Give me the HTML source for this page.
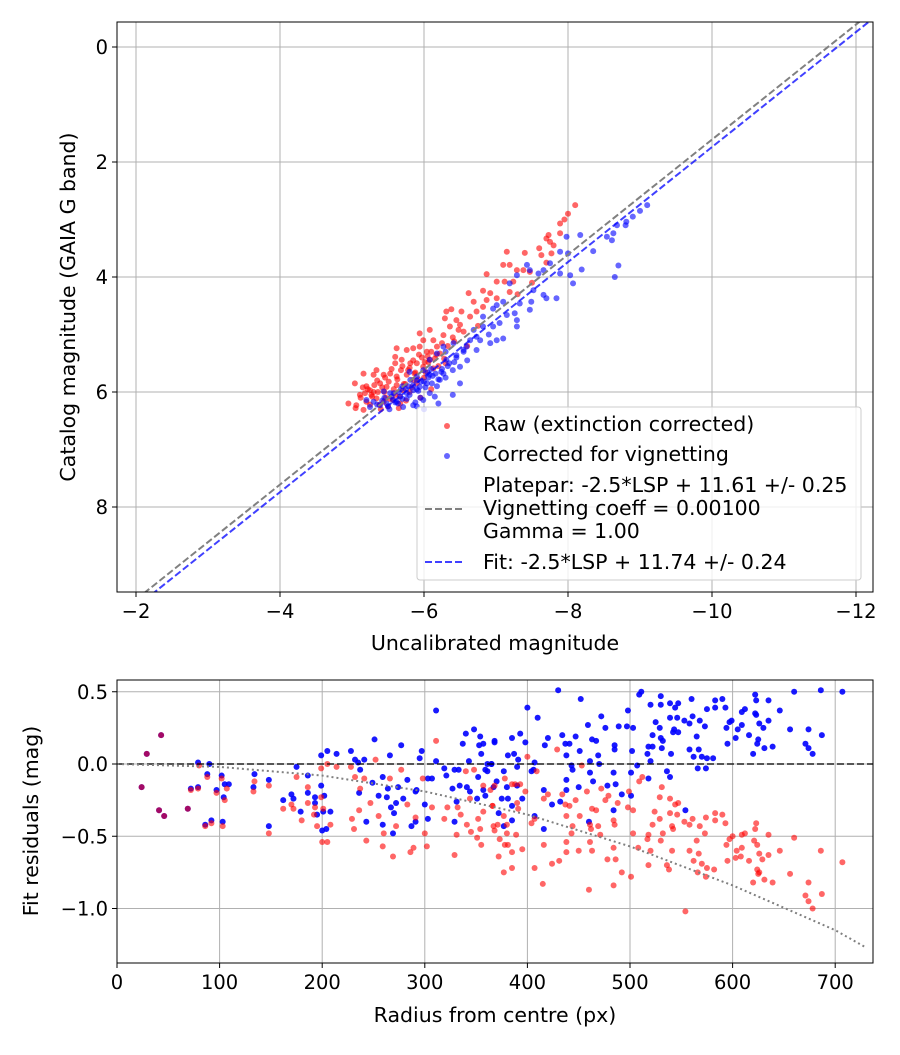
<!DOCTYPE html>
<html><head><meta charset="utf-8"><style>
body{margin:0;background:#fff}
svg{font-family:"DejaVu Sans","Liberation Sans",sans-serif}
</style></head><body>
<svg id="chart" width="900" height="1050" viewBox="0 0 900 1050" xmlns="http://www.w3.org/2000/svg">
<rect width="900" height="1050" fill="#fff"/>
<g id="topPlot"></g>
<g id="botPlot"></g>
</svg>
<script>
const rawX=[-7.89,-7.89,-7.73,-7.75,-7.70,-7.15,-7.40,-7.63,-7.77,-7.10,-7.19,-7.29,-7.38,-6.87,-7.01,-7.12,-7.24,-7.47,-6.62,-6.82,-6.92,-6.69,-6.87,-7.01,-7.19,-6.31,-6.38,-6.52,-6.64,-6.73,-6.82,-6.29,-6.45,-6.50,-6.08,-6.27,-6.36,-6.48,-5.94,-5.99,-6.13,-6.18,-5.62,-5.76,-5.85,-5.94,-6.04,-6.08,-6.22,-5.60,-5.69,-5.81,-5.90,-5.99,-6.13,-5.16,-5.34,-5.44,-5.53,-5.62,-5.76,-5.85,-5.39,-5.48,-5.62,-5.71,-5.25,-5.11,-5.04,-4.95,-5.06,-5.20,-5.34,-5.44,-5.57,-5.67,-5.16,-8.1,-8.0,-7.95,-7.6,-5.3,-5.5,-5.6,-5.8,-5.9,-6.0,-5.45,-5.2,-5.35,-5.55,-5.7,-5.85,-6.1,-6.25,-6.4,-6.55,-5.05,-5.25,-5.4,-5.65,-5.75,-5.95,-6.1,-6.3,-6.6,-6.75,-7.3,-7.5,-7.7,-7.8,
-5.12,-5.18,-5.22,-5.28,-5.31,-5.36,-5.42,-5.47,-5.51,-5.58,-5.63,-5.66,-5.72,-5.78,-5.83,-5.88,-5.92,-5.97,-6.02,-6.06,-6.15,-6.2,-6.33,-6.42,-5.15,-5.3,-5.38,-5.52,-5.68,-5.8,-5.93,-6.05,-6.17,-6.28,-5.27,-5.46,-5.6,-5.74,-5.87,-6.01];
const rawY=[3.07,3.24,3.27,3.39,3.33,3.56,3.58,3.62,3.59,3.79,3.79,3.88,3.88,3.95,4.08,4.08,4.08,3.91,4.28,4.24,4.28,4.43,4.40,4.37,4.26,4.60,4.56,4.60,4.69,4.60,4.52,4.72,4.75,4.83,4.92,5.01,4.86,4.92,4.98,5.10,5.10,5.21,5.24,5.27,5.24,5.21,5.30,5.44,5.33,5.39,5.44,5.50,5.50,5.56,5.59,5.68,5.62,5.70,5.68,5.73,5.70,5.79,5.85,5.91,5.88,5.97,5.97,6.05,5.85,6.20,6.23,6.17,6.11,6.17,6.14,6.20,6.31,2.75,2.9,3.0,3.5,6.0,6.25,6.05,6.0,5.85,5.75,6.0,5.9,5.8,5.6,5.55,5.45,5.3,5.15,5.05,4.95,6.28,6.22,6.3,6.28,6.15,6.1,5.95,5.5,5.2,4.85,4.3,4.1,3.75,3.45,
6.1,6.02,5.95,6.08,5.88,6.0,5.92,6.1,5.82,5.95,5.78,6.08,5.86,5.62,5.92,5.66,5.78,5.4,5.65,5.48,5.42,5.55,5.2,5.12,5.92,5.7,6.22,6.12,5.62,5.58,5.35,5.38,5.35,5.42,6.05,5.75,5.5,5.86,5.68,5.48];
const corX=[-7.98,-8.17,-8.54,-8.61,-8.81,-8.68,-8.63,-7.89,-8.00,-7.75,-7.66,-7.47,-7.43,-7.59,-7.89,-8.03,-8.07,-8.19,-7.29,-7.19,-7.52,-7.66,-7.70,-7.84,-7.49,-7.47,-7.33,-7.26,-7.29,-7.15,-7.29,-6.96,-7.01,-7.10,-6.82,-6.96,-6.82,-6.69,-6.73,-6.64,-6.59,-6.55,-6.45,-6.73,-6.92,-7.01,-7.10,-6.78,-6.41,-6.27,-6.18,-6.08,-6.31,-6.50,-5.99,-5.90,-5.81,-6.08,-6.27,-6.22,-6.04,-5.94,-5.85,-5.76,-5.67,-5.57,-5.48,-5.39,-5.30,-5.20,-6.08,-6.15,-5.99,-5.85,-5.71,-5.62,-5.53,-5.44,-5.25,-9.1,-9.0,-8.9,-8.8,-6.0,-5.9,-6.2,-6.4,-6.5,-5.7,-5.9,-6.1,-5.8,-6.3,-6.6,-6.9,-7.05,-8.35,-8.7,-8.65,
-5.35,-5.42,-5.5,-5.55,-5.6,-5.65,-5.7,-5.75,-5.8,-5.85,-5.88,-5.92,-5.96,-6.02,-6.06,-6.11,-6.16,-6.2,-6.25,-6.35,-6.4,-6.45,-5.45,-5.58,-5.68,-5.78,-5.9,-6.0,-6.12,-6.24,-6.33,-5.52,-5.64,-5.76,-5.95,-6.05,-6.18,-6.3,-6.42,-6.55];
const corY=[3.30,3.27,3.30,3.36,3.04,3.10,3.24,3.56,3.59,3.76,3.88,3.88,3.79,3.94,3.94,3.97,4.11,3.87,3.97,4.11,4.23,4.31,4.37,4.37,4.43,4.57,4.46,4.63,4.75,4.66,4.86,4.55,4.49,4.43,4.69,4.86,4.86,4.92,5.04,5.10,5.21,5.27,5.36,5.27,5.15,5.10,5.07,5.10,5.15,5.21,5.33,5.44,5.44,5.56,5.62,5.73,5.79,5.70,5.68,5.79,5.85,5.91,5.97,6.02,6.08,6.14,6.20,6.23,6.17,6.14,6.02,6.08,6.14,6.23,6.26,6.17,6.02,5.99,6.26,2.75,2.85,2.95,3.1,6.3,6.25,6.2,6.05,5.85,5.9,5.8,5.6,5.65,5.3,5.45,5.0,4.8,3.55,3.8,4.0,
6.22,6.15,6.25,6.08,6.18,6.0,6.12,5.95,6.05,5.88,6.18,5.98,5.82,5.92,5.75,5.85,5.68,5.78,5.6,5.5,5.62,5.4,6.1,6.02,5.95,5.9,5.95,5.82,5.72,5.65,5.55,6.3,6.2,6.12,6.1,5.66,5.9,5.75,5.48,5.3];
const plateparZP=11.61, fitZP=11.74;
const xTicksTop=[-2,-4,-6,-8,-10,-12], yTicksTop=[0,2,4,6,8];

const resRawR=[43,29,24,41,46,69,80,88,102,72,79,97,107,105,86,92,103,134,133,148,148,175,162,170,172,180,186,199,205,214,228,252,232,241,237,199,193,195,200,205,208,201,192,186,243,231,229,236,247,255,260,259,269,272,277,266,283,291,289,286,300,302,298,311,307,319,322,329,331,332,335,340,348,344,341,345,351,354,355,352,357,357,364,367,366,
400,409,429,453,398,388,393,368,378,385,390,391,366,377,371,380,368,389,380,373,378,381,385,395,372,377,385,404,407,407,416,420,416,415,424,431,434,437,441,438,447,444,443,438,438,450,451,458,463,467,461,462,461,463,460,469,471,472,476,479,484,485,484,478,486,484,488,492,498,499,503,503,501,508,509,512,517,518,520,518,522,524,529,531,529,530,532,539,539,541,542,541,536,538,544,547,546,553,558,561,558,562,568,567,565,570,575,574,573,582,574,566,554,583,583,590,593,594,595,597,600,604,603,609,608,609,612,616,622,623,621,624,626,629,624,626,625,620,631,635,635,639,646,656,660,671,674,674,678,686,687,707];
const resRawV=[0.20,0.07,-0.16,-0.32,-0.36,-0.31,-0.01,-0.09,-0.10,-0.18,-0.17,-0.20,-0.17,-0.25,-0.43,-0.41,-0.43,-0.12,-0.19,-0.15,-0.48,-0.09,-0.31,-0.28,-0.31,-0.39,-0.16,-0.03,0.00,-0.02,-0.02,0.03,-0.09,-0.10,-0.17,-0.23,-0.30,-0.43,-0.54,-0.54,-0.42,-0.31,-0.35,-0.27,-0.53,-0.45,-0.38,-0.32,-0.27,-0.36,-0.48,-0.57,-0.64,-0.43,-0.04,-0.10,-0.28,-0.37,-0.58,-0.61,-0.48,-0.57,-0.10,0.16,-0.30,-0.38,-0.30,-0.63,-0.49,-0.30,-0.35,-0.05,-0.04,-0.24,-0.42,-0.47,-0.51,-0.45,-0.56,-0.38,-0.33,-0.15,-0.18,-0.43,-0.29,
0.05,-0.05,0.10,-0.01,-0.19,-0.14,-0.14,-0.15,-0.10,-0.14,-0.27,-0.31,-0.29,-0.36,-0.42,-0.42,-0.46,-0.49,-0.48,-0.52,-0.56,-0.56,-0.61,-0.59,-0.64,-0.75,-0.72,-0.41,-0.38,-0.72,-0.24,-0.21,-0.56,-0.83,-0.69,-0.67,-0.21,-0.28,-0.29,-0.36,-0.25,-0.43,-0.48,-0.54,-0.61,-0.60,-0.36,-0.19,-0.31,-0.32,-0.42,-0.45,-0.54,-0.60,-0.87,-0.43,-0.49,-0.17,-0.25,-0.22,-0.39,-0.42,-0.58,-0.66,-0.66,-0.84,-0.27,-0.75,-0.30,-0.19,-0.32,-0.48,-0.78,-0.58,-0.12,-0.09,-0.52,-0.49,-0.60,-0.70,-0.42,-0.33,-0.38,-0.16,-0.23,-0.53,-0.48,-0.24,-0.34,-0.43,-0.45,-0.60,-0.70,-0.73,-0.28,-0.27,-0.35,-0.40,-0.42,-0.38,-0.60,-0.67,-0.43,-0.62,-0.53,-0.69,-0.72,-0.37,-0.48,-0.73,-0.78,-0.75,-1.02,-0.34,-0.39,-0.35,-0.41,-0.56,-0.67,-0.52,-0.50,-0.60,-0.65,-0.58,-0.64,-0.49,-0.48,-0.67,-0.45,-0.41,-0.53,-0.56,-0.62,-0.66,-0.73,-0.75,-0.76,-0.82,-0.80,-0.49,-0.63,-0.82,-0.60,-0.76,-0.51,-0.91,-0.82,-0.95,-1.00,-0.60,-0.90,-0.68];
const resCorR=[43,29,24,41,46,69,79,90,88,102,72,79,97,105,109,104,86,92,103,134,133,148,148,175,186,162,170,172,179,186,199,205,214,228,232,241,235,237,199,202,193,193,195,201,208,200,204,251,266,277,297,295,311,311,319,321,303,307,283,259,249,236,264,274,255,263,272,279,291,292,267,270,243,259,269,287,291,300,303,329,327,331,334,329,333,337,340,348,354,353,357,355,343,361,365,359,361,352,341,344,351,357,359,367,368,
430,452,400,410,368,385,393,398,381,387,391,390,407,406,404,365,377,370,380,390,375,381,385,395,372,377,385,407,416,417,420,434,437,441,447,459,472,476,489,463,467,451,438,469,461,470,443,444,461,464,438,438,450,416,424,432,478,486,484,485,485,492,501,484,460,498,497,503,502,507,501,509,511,520,530,530,525,529,522,530,532,518,522,531,517,520,540,536,539,518,539,544,547,539,546,543,542,547,553,558,560,561,568,565,558,567,562,570,575,581,566,574,573,575,583,590,583,593,594,595,599,597,605,603,609,612,609,616,622,623,622,623,626,630,625,624,620,631,635,635,639,646,660,656,671,674,678,674,686,687,707,554];
const resCorV=[0.20,0.07,-0.16,-0.32,-0.36,-0.31,0.01,0.00,-0.07,-0.08,-0.17,-0.16,-0.18,-0.14,-0.14,-0.23,-0.42,-0.39,-0.40,-0.07,-0.16,-0.11,-0.43,-0.02,-0.08,-0.25,-0.21,-0.24,-0.33,-0.20,0.06,0.09,0.07,0.09,0.03,0.03,0.01,-0.04,-0.15,-0.22,-0.23,-0.27,-0.35,-0.33,-0.33,-0.46,-0.45,0.17,0.06,0.13,0.09,0.04,0.37,0.02,-0.03,-0.08,-0.10,-0.10,-0.11,-0.09,-0.13,-0.20,-0.17,-0.16,-0.22,-0.23,-0.27,-0.24,-0.19,-0.18,-0.30,-0.34,-0.40,-0.42,-0.48,-0.43,-0.40,-0.28,-0.38,-0.40,-0.17,-0.26,-0.15,-0.04,-0.04,0.14,0.21,0.24,0.19,0.13,0.14,0.07,0.02,0.00,0.00,-0.04,-0.05,-0.09,-0.16,-0.19,-0.24,-0.18,-0.22,-0.16,0.15,
0.51,0.45,0.39,0.32,0.16,0.18,0.21,0.15,0.06,0.07,0.03,-0.02,0.01,-0.04,-0.05,0.00,-0.05,-0.12,-0.16,-0.15,-0.24,-0.24,-0.29,-0.24,-0.34,-0.43,-0.39,-0.36,-0.45,0.13,0.18,0.20,0.14,0.14,0.19,0.27,0.33,0.25,0.26,0.17,0.16,0.09,0.06,0.06,0.02,0.00,-0.01,-0.04,-0.06,-0.12,-0.11,-0.18,-0.16,-0.18,-0.28,-0.26,-0.15,-0.14,-0.06,0.13,0.10,-0.21,-0.22,-0.32,-0.40,0.37,0.26,0.25,0.09,-0.01,-0.06,0.48,0.50,0.41,0.47,0.41,0.29,0.25,0.20,0.18,0.16,0.12,0.12,0.11,0.07,0.02,0.07,-0.05,-0.09,-0.10,0.42,0.39,0.42,0.32,0.32,0.24,0.22,0.22,0.30,0.28,0.45,0.33,0.30,0.19,0.10,0.10,0.05,0.05,0.04,0.04,-0.03,-0.03,0.26,0.38,0.44,0.45,0.39,0.39,0.25,0.14,0.30,0.29,0.24,0.18,0.36,0.38,0.27,0.20,0.48,0.44,0.35,0.34,0.28,0.25,0.17,0.14,0.07,0.11,0.44,0.30,0.12,0.37,0.50,0.24,0.14,0.11,0.07,0.24,0.51,0.20,0.50,-0.32];
const vignetteR=[0,100,200,300,400,500,600,700,730];
const vignetteV=[0.0,-0.02,-0.08,-0.19,-0.35,-0.57,-0.84,-1.15,-1.27];
const xTicksBot=[0,100,200,300,400,500,600,700], yTicksBot=[0.5,0.0,-0.5,-1.0];

const NS="http://www.w3.org/2000/svg";
const FS=20.5;
function mk(p,t,a){const e=document.createElementNS(NS,t);for(const k in a)e.setAttribute(k,a[k]);p.appendChild(e);return e;}
const gTop=document.getElementById('topPlot'), gBot=document.getElementById('botPlot');
const T={l:117,r:873,t:22,b:592};
const tx=v=>136+(v-(-2))*(-72);
const ty=v=>47+v*57.5;
const B={l:117,r:873,t:680,b:963};
const bx=v=>117+v*1.026;
const by=v=>764-v*144.5;

function grid(g,box,xt,xf,yt,yf,fmt){
  xt.forEach(v=>{const x=xf(v);
    const l=mk(g,'line',{x1:x,x2:x,y1:box.t,y2:box.b,stroke:'#b0b0b0','stroke-width':1});
    
    
    mk(g,'line',{x1:x,x2:x,y1:box.b,y2:box.b+5,stroke:'#000'});
    const t=mk(g,'text',{x:x,y:box.b+26,'text-anchor':'middle','font-size':FS-1});
    t.textContent=fmt.x(v);
    
    });
  yt.forEach(v=>{const y=yf(v);
    const l=mk(g,'line',{x1:box.l,x2:box.r,y1:y,y2:y,stroke:'#b0b0b0','stroke-width':1});
    
    
    mk(g,'line',{x1:box.l-5,x2:box.l,y1:y,y2:y,stroke:'#000'});
    const t=mk(g,'text',{x:box.l-9,y:y+7,'text-anchor':'end','font-size':FS-1});
    t.textContent=fmt.y(v);
    
    });
}
const minus=s=>String(s).replace('-','\u2212');
grid(gTop,T,xTicksTop,tx,yTicksTop,ty,{x:v=>minus(v),y:v=>minus(v)});
grid(gBot,B,xTicksBot,bx,yTicksBot,by,{x:v=>String(v),y:v=>minus(v.toFixed(1))});

const svgRoot=document.getElementById('chart');
const defs=mk(svgRoot,'defs',{});
const c1=mk(defs,'clipPath',{id:'c1'});mk(c1,'rect',{x:T.l,y:T.t,width:T.r-T.l,height:T.b-T.t});
const c2=mk(defs,'clipPath',{id:'c2'});mk(c2,'rect',{x:B.l,y:B.t,width:B.r-B.l,height:B.b-B.t});
const gt=mk(gTop,'g',{'clip-path':'url(#c1)'});
const gb=mk(gBot,'g',{'clip-path':'url(#c2)'});

rawX.forEach((v,i)=>{const c=mk(gt,'circle',{cx:tx(v),cy:ty(rawY[i]),r:3,fill:'red','fill-opacity':0.6});
  
  });
corX.forEach((v,i)=>{const c=mk(gt,'circle',{cx:tx(v),cy:ty(corY[i]),r:3,fill:'blue','fill-opacity':0.6});
  
  });
const lp=mk(gt,'line',{x1:tx(-2),y1:ty(-2+plateparZP),x2:tx(-12.5),y2:ty(-12.5+plateparZP),stroke:'#808080','stroke-width':2,'stroke-dasharray':'7,3'});


const lf=mk(gt,'line',{x1:tx(-2),y1:ty(-2+fitZP),x2:tx(-12.5),y2:ty(-12.5+fitZP),stroke:'blue','stroke-opacity':0.75,'stroke-width':2,'stroke-dasharray':'7,3'});



resCorR.forEach((v,i)=>{const c=mk(gb,'circle',{cx:bx(v),cy:by(resCorV[i]),r:3,fill:'blue','fill-opacity':0.9});
  
  });
resRawR.forEach((v,i)=>{const c=mk(gb,'circle',{cx:bx(v),cy:by(resRawV[i]),r:3,fill:'red','fill-opacity':0.6});
  
  });
const zl=mk(gb,'line',{x1:B.l,x2:B.r,y1:by(0),y2:by(0),stroke:'#000','stroke-opacity':0.6,'stroke-width':2,'stroke-dasharray':'7,3'});


const vp=mk(gb,'polyline',{points:vignetteR.map((r,i)=>bx(r)+','+by(vignetteV[i])).join(' '),fill:'none',stroke:'#808080','stroke-width':2,'stroke-dasharray':'2,3'});



[[gTop,T],[gBot,B]].forEach(([g,b])=>{const r=mk(g,'rect',{x:b.l,y:b.t,width:b.r-b.l,height:b.b-b.t,fill:'none',stroke:'#000','stroke-width':1});
  
  });

function txt(g,x,y,s,name,extra){const t=mk(g,'text',Object.assign({x:x,y:y,'font-size':FS},extra||{}));t.textContent=s;
  
  
  return t;}
txt(gTop,495,650,'Uncalibrated magnitude','x-axis-title',{'text-anchor':'middle'});
txt(gTop,0,0,'Catalog magnitude (GAIA G band)','y-axis-title',{'text-anchor':'middle',transform:'translate(75,307) rotate(-90)'});
txt(gBot,495,1022,'Radius from centre (px)','x-axis-title-bottom',{'text-anchor':'middle'});
txt(gBot,0,0,'Fit residuals (mag)','y-axis-title-bottom',{'text-anchor':'middle',transform:'translate(38,821) rotate(-90)'});

const lg=mk(gTop,'g',{});


mk(lg,'rect',{x:417,y:407,width:444,height:173,rx:3,fill:'#fff','fill-opacity':0.8,stroke:'#ccc'});
mk(lg,'circle',{cx:447,cy:426,r:3,fill:'red','fill-opacity':0.6});
txt(lg,483,431,'Raw (extinction corrected)','legend-raw');
mk(lg,'circle',{cx:447,cy:456,r:3,fill:'blue','fill-opacity':0.6});
txt(lg,483,461,'Corrected for vignetting','legend-corrected');
mk(lg,'line',{x1:425,x2:465,y1:509,y2:509,stroke:'#808080','stroke-width':2,'stroke-dasharray':'7,3'});
txt(lg,483,492,'Platepar: -2.5*LSP + 11.61 +/- 0.25','legend-platepar');
txt(lg,483,515,'Vignetting coeff = 0.00100','legend-vignetting');
txt(lg,483,538,'Gamma = 1.00','legend-gamma');
mk(lg,'line',{x1:425,x2:465,y1:562,y2:562,stroke:'blue','stroke-opacity':0.75,'stroke-width':2,'stroke-dasharray':'7,3'});
txt(lg,483,569,'Fit: -2.5*LSP + 11.74 +/- 0.24','legend-fit');
</script>
</body></html>
